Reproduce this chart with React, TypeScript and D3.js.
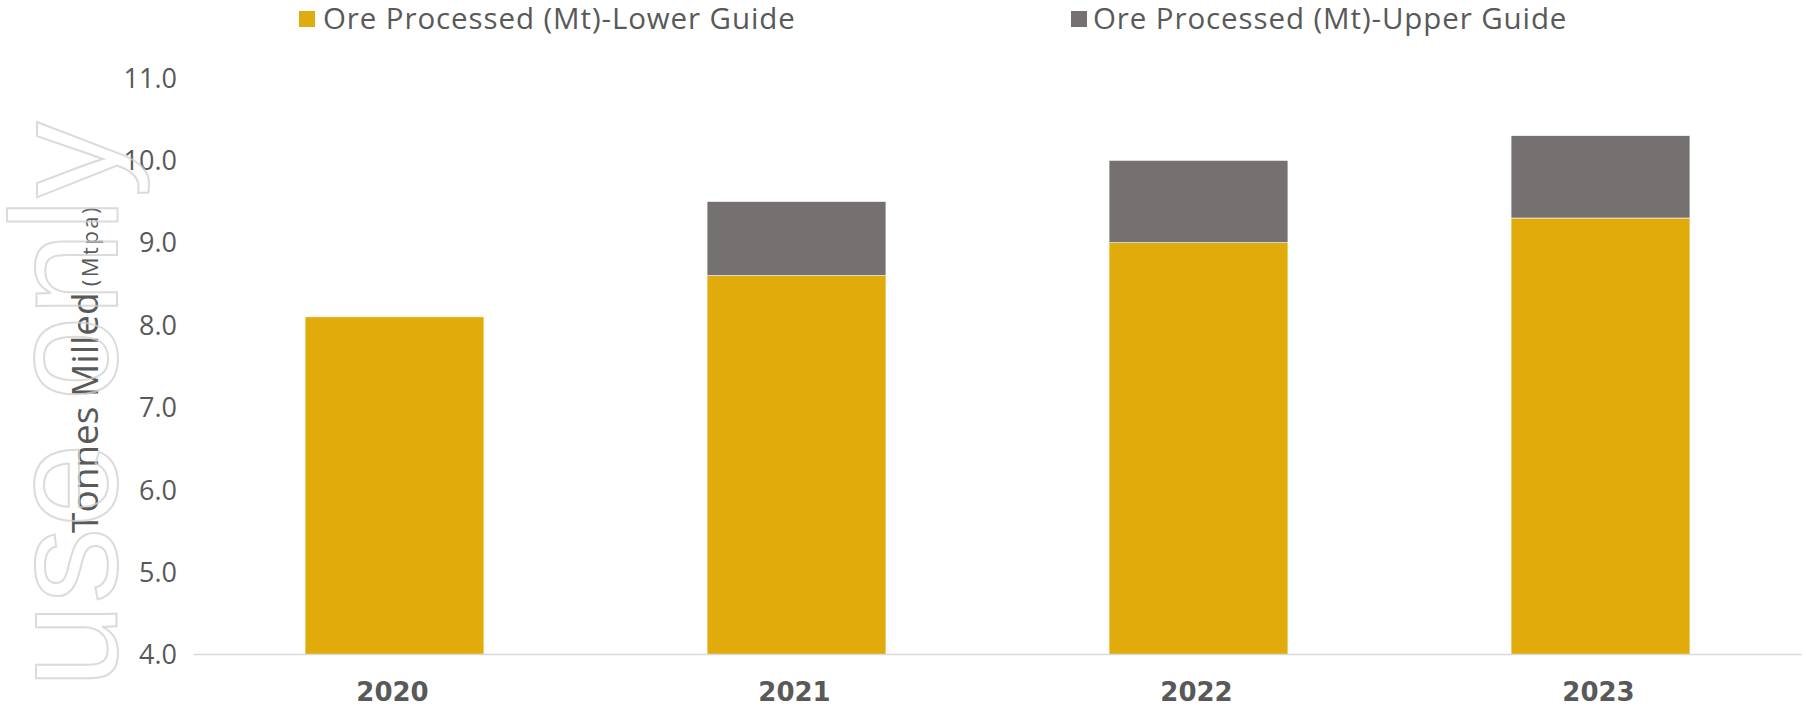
import React from "react";
import * as d3 from "d3";

const categories = ["2020", "2021", "2022", "2023"];
const lowerGuide = [8.1, 8.6, 9.0, 9.3];
const upperGuideIncrement = [0, 0.9, 1.0, 1.0];
const yTicks = [4, 5, 6, 7, 8, 9, 10, 11];
const seriesNames = ["Ore Processed (Mt)-Lower Guide", "Ore Processed (Mt)-Upper Guide"];
const seriesColors = ["#E1AB0C", "#757170"];

const W = 1806;
const H = 714;

export default function App() {
  const x = d3.scaleBand<string>().domain(categories).range([193.5, 1801.5]).paddingInner(0.555).paddingOuter(0.2775);
  const y = d3.scaleLinear().domain([4, 11]).range([654.5, 78]);
  const rows = categories.map((c, i) => ({ cat: c, lower: lowerGuide[i], upper: upperGuideIncrement[i] }));
  const stack = d3.stack<any>().keys(["lower", "upper"])(rows as any);
  const textColor = "#595959";
  const yMin = y.domain()[0];

  return (
    <svg width={W} height={H} style={{ position: "absolute", left: 0, top: 0, background: "#fff" }}>
      {/* legend */}
      <g>
        <rect x={299} y={11} width={16} height={16} fill={seriesColors[0]} />
        <text x={323} y={28.5} fontFamily="'Open Sans'" fontSize={29.5} letterSpacing={0.9} fill={textColor}>{seriesNames[0]}</text>
        <rect x={1071} y={11} width={16} height={16} fill={seriesColors[1]} />
        <text x={1093} y={28.5} fontFamily="'Open Sans'" fontSize={29.5} letterSpacing={0.9} fill={textColor}>{seriesNames[1]}</text>
      </g>
      {/* y ticks */}
      <g>
        {yTicks.map((t) => (
          <text key={t} x={177} y={y(t)} dy="0.36em" textAnchor="end" fontFamily="'Open Sans'" fontSize={27} fill={textColor}>
            {d3.format(".1f")(t)}
          </text>
        ))}
      </g>
      {/* y title */}
      <text transform="translate(98,533) rotate(-90)" fontFamily="'Open Sans'" fill={textColor}>
        <tspan fontSize={37}>Tonnes Milled</tspan>
        <tspan fontSize={22} letterSpacing={2.5} dx={6}>(Mtpa)</tspan>
      </text>
      {/* bars */}
      <g>
        {stack.map((s, si) => (
          <g key={si} fill={seriesColors[si]}>
            {s.map((d: any, i: number) =>
              d[1] - d[0] > 0 ? (
                <rect
                  key={i}
                  x={x(categories[i])}
                  width={x.bandwidth()}
                  y={y(d[1])}
                  height={y(Math.max(d[0], yMin)) - y(d[1])}
                  stroke="#ffffff"
                  strokeWidth={0.6}
                />
              ) : null
            )}
          </g>
        ))}
      </g>
      {/* axis line */}
      <line x1={193.5} x2={1801.5} y1={654.5} y2={654.5} stroke="#d9d9d9" strokeWidth={1.5} />
      {/* x labels */}
      {categories.map((c) => (
        <text key={c} x={(x(c) as number) + x.bandwidth() / 2 - 2} y={701} textAnchor="middle" fontFamily="'DejaVu Sans'" fontWeight="bold" fontSize={26} fill={textColor}>
          {c}
        </text>
      ))}
      {/* watermark */}
      <text
        transform="translate(117,688) rotate(-90)"
        fontFamily="'Liberation Sans', Arial"
        fontSize={152}
        fill="none"
        stroke="#cfcfcf"
        strokeOpacity={0.75}
        strokeWidth={2}
      >
        use only
      </text>
    </svg>
  );
}
